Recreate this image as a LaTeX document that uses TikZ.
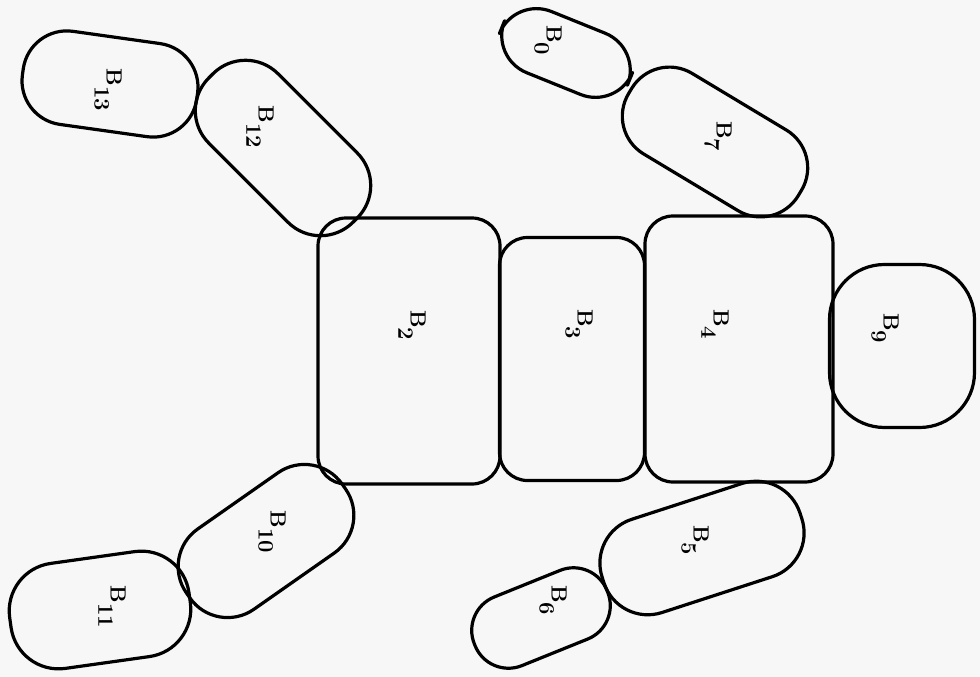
\documentclass[tikz,border=0pt]{standalone}
\usepackage{fontspec}
\newcommand{\blab}[1]{B\raisebox{-0.55em}{#1}}
\begin{document}
\begin{tikzpicture}[x=1pt,y=1pt,
  part/.style={draw=black, line width=3.2pt, inner sep=0pt, line join=round},
  torso/.style={part, rounded corners=28pt},
  limb/.style={part, rounded corners=#1},
  lab/.style={rotate=-90, inner sep=0pt, font=\fontsize{22}{26}\selectfont\bfseries}
]
\useasboundingbox[fill=black!3] (0,0) rectangle (980,-677);
% torso blocks
\node[torso, minimum width=182pt, minimum height=266pt] (b2) at (409,-351) {};
\node[torso, minimum width=145pt, minimum height=243pt] (b3) at (572,-359) {};
\node[torso, minimum width=188pt, minimum height=266pt] (b4) at (739,-349) {};
\node[part, rounded corners=55pt, minimum width=145pt, minimum height=163pt] (b9) at (902,-346) {};
% limbs
\node[limb=40pt, minimum width=138pt, minimum height=66pt, rotate=-22] (b0) at (566,-53) {};
\node[limb=44pt, minimum width=198pt, minimum height=94pt, rotate=-31] (b7) at (715,-142) {};
\node[limb=44pt, minimum width=176pt, minimum height=94pt, rotate=-8] (b13) at (110,-84) {};
\node[limb=46pt, minimum width=204pt, minimum height=98pt, rotate=-45] (b12) at (283,-148) {};
\node[limb=46pt, minimum width=190pt, minimum height=98pt, rotate=35] (b10) at (266,-541) {};
\node[limb=48pt, minimum width=181pt, minimum height=106pt, rotate=8] (b11) at (100,-610) {};
\node[limb=46pt, minimum width=208pt, minimum height=98pt, rotate=18] (b5) at (702,-548) {};
\node[limb=36pt, minimum width=143pt, minimum height=74pt, rotate=22] (b6) at (541,-618) {};
% labels
\node[lab] (l2) at (412,-325) {\blab{2}};
\node[lab] (l3) at (579,-324) {\blab{3}};
\node[lab] (l4) at (715,-324) {\blab{4}};
\node[lab] (l9) at (885,-328) {\blab{9}};
\node[lab] (l13) at (108,-90) {\blab{13}};
\node[lab] (l12) at (260,-127) {\blab{12}};
\node[lab] (l0) at (548,-40) {\blab{0}};
\node[lab] (l7) at (718,-136) {\blab{7}};
\node[lab] (l10) at (272,-532) {\blab{10}};
\node[lab] (l11) at (112,-607) {\blab{11}};
\node[lab] (l5) at (695,-540) {\blab{5}};
\node[lab] (l6) at (553,-600) {\blab{6}};
\end{tikzpicture}
\end{document}
